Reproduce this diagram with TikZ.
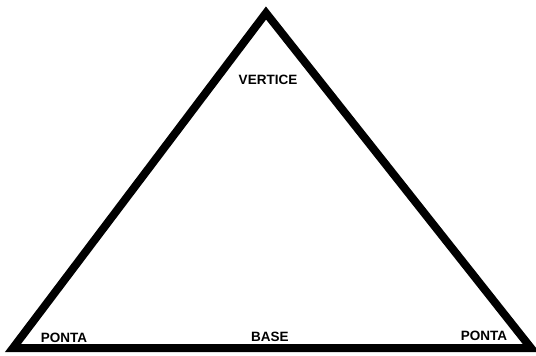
\documentclass[tikz,border=0pt]{standalone}
\usepackage{fontspec}
\setmainfont{Liberation Sans}
\usepackage{tikz}
\usetikzlibrary{positioning}

\tikzset{
    label/.style = {font=\fontsize{13.5}{13.5}\selectfont\bfseries, inner sep=0pt},
    side/.style = {line width=8pt, line join=miter}
}

\begin{document}
\begin{tikzpicture}[x=1pt, y=-1pt]
            \useasboundingbox (0,0) rectangle (536,356);

            \coordinate (V) at (266,13);
            \coordinate (L) at (13,348);
            \coordinate (R) at (531,348);

            \node[label] (vertice) at (268,80) {VERTICE};
            \node[label] (pontaL) at (64,338) {PONTA};
            \node[label] (base) at (270,337) {BASE};
            \node[label] (pontaR) at (484,336) {PONTA};

            \draw[side] (V) -- (L) -- (R) -- cycle;

        \end{tikzpicture}
\end{document}
